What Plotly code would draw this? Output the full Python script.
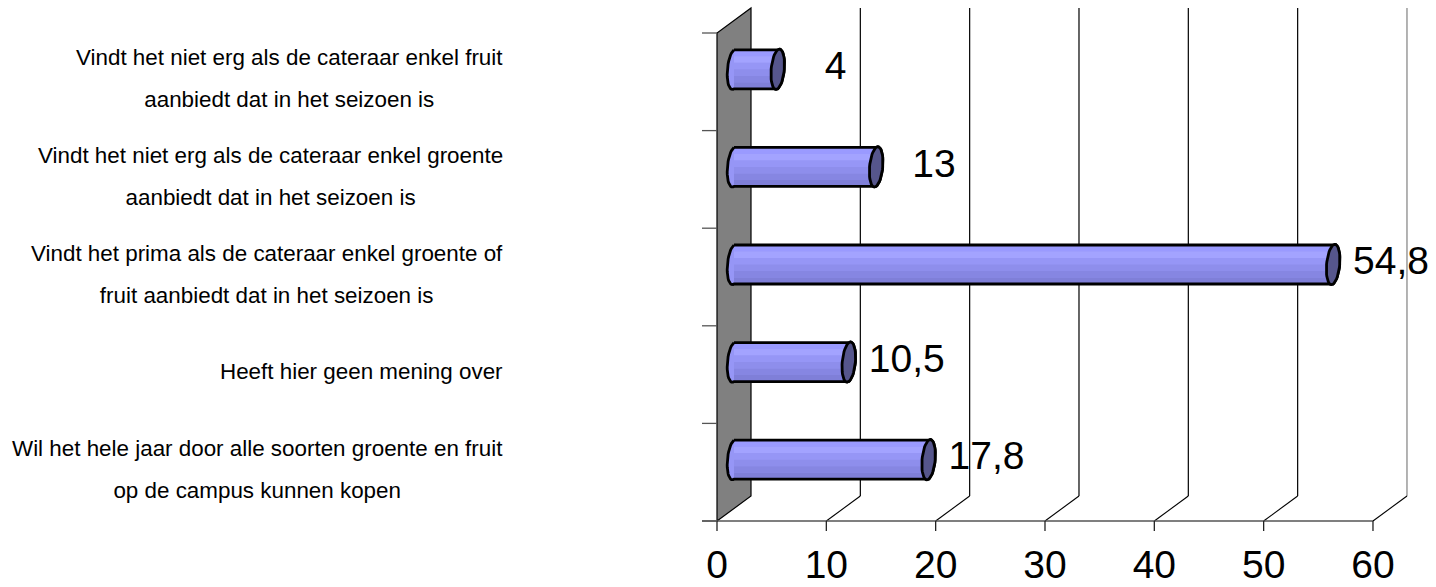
import numpy as np
import plotly.graph_objects as go

# ---------------- data (top to bottom as shown) ----------------
categories = [
    "Vindt het niet erg als de cateraar enkel fruit<br>aanbiedt dat in het seizoen is",
    "Vindt het niet erg als de cateraar enkel groente<br>aanbiedt dat in het seizoen is",
    "Vindt het prima als de cateraar enkel groente of<br>fruit aanbiedt dat in het seizoen is",
    "Heeft hier geen mening over",
    "Wil het hele jaar door alle soorten groente en fruit<br>op de campus kunnen kopen",
]
values = [4, 13, 54.8, 10.5, 17.8]
value_labels = ["4", "13", "54,8", "10,5", "17,8"]
x_ticks = [0, 10, 20, 30, 40, 50, 60]
x_tick_labels = ["0", "10", "20", "30", "40", "50", "60"]

# ---------------- geometry / style ----------------
W, H = 1436, 587
ML, MR, MT, MB = 690, 0, 0, 56
X0PX, KX = 717.0, 10.933      # pixel of x=0 (front), px per unit
Y0PX, KY = 521.0, 97.6        # pixel of y=0 (front floor), px per category
DX, DY = 34 / KX, 25 / KY     # depth offset of the back wall
n = len(categories)
XMAX = 60
PW = W - ML - MR

xr = [(ML - X0PX) / KX, (W - MR - X0PX) / KX]
yr = [(Y0PX - (H - MB)) / KY, (Y0PX - MT) / KY]

BAR_HALF = 19.5 / KY
CAP_X = 6.8 / KX
CAP_SKEW = 5 / KY
LABEL_OFFSET = 5.3

def line(x0, y0, x1, y1, color="black", width=1):
    return dict(type="line", x0=x0, y0=y0, x1=x1, y1=y1, xref="x", yref="y",
                line=dict(color=color, width=width), layer="below")

shapes = []
# side wall
shapes.append(dict(type="path", xref="x", yref="y", layer="below",
                   path=f"M 0,0 L {DX},{DY} L {DX},{n+DY} L 0,{n} Z",
                   fillcolor="#808080", line=dict(color="black", width=1.2)))
# back gridlines and floor diagonals
for t in x_ticks[1:]:
    col = "#808080" if t == XMAX else "#000000"
    shapes.append(line(t + DX, DY, t + DX, n + DY, col, 1.2))
    shapes.append(line(t, 0, t + DX, DY, "#000000", 1.1))
# front floor line
shapes.append(line(-15 / KX, 0, XMAX, 0, "#555555", 1.3))
# x ticks
for t in x_ticks:
    shapes.append(line(t, 0, t, -14 / KY, "#222222", 1.3))
# y ticks
for j in range(n + 1):
    shapes.append(line(-15 / KX, j, 0, j, "#555555", 1.3))

fig = go.Figure()

def ellipse(cx, cy, t):
    return cx + CAP_X * np.sin(t), cy + BAR_HALF * np.cos(t) + CAP_SKEW * np.sin(t)

band_colors = ["#9a9aff", "#a3a3ff", "#9696f6", "#8e8eec", "#8686e2", "#7f7fd8"]
band_edges = np.linspace(1, -1, len(band_colors) + 1)

for i, (cat, v) in enumerate(zip(categories, values)):
    j = n - 1 - i
    cy = j + 0.5 + DY / 2
    xl = DX / 2
    xe = v + DX / 2
    tl = np.linspace(0, -np.pi, 25)
    trr = np.linspace(np.pi, 0, 25)
    lx, ly = ellipse(xl, cy, tl)
    rx, ry = ellipse(xe, cy, trr)
    bx = np.concatenate([lx, rx, lx[:1]])
    by = np.concatenate([ly, ry, ly[:1]])
    fig.add_trace(go.Scatter(x=bx, y=by, mode="lines", fill="toself",
                             fillcolor=band_colors[2], line=dict(width=0),
                             hoverinfo="skip", showlegend=False))
    for k, col in enumerate(band_colors):
        y1 = cy + BAR_HALF * band_edges[k]
        y2 = cy + BAR_HALF * band_edges[k + 1]
        fig.add_trace(go.Scatter(x=[xl, xe, xe, xl, xl], y=[y1, y1, y2, y2, y1],
                                 mode="lines", fill="toself", fillcolor=col,
                                 line=dict(width=0), hoverinfo="skip",
                                 showlegend=False))
    fig.add_trace(go.Scatter(x=np.append(lx, lx[0]), y=np.append(ly, ly[0]),
                             mode="lines", fill="toself", fillcolor=band_colors[2],
                             line=dict(width=0), hoverinfo="skip", showlegend=False))
    fig.add_trace(go.Scatter(x=bx, y=by, mode="lines",
                             line=dict(color="black", width=2.8),
                             hoverinfo="skip", showlegend=False))
    tc = np.linspace(0, 2 * np.pi, 49)
    cxs, cys = ellipse(xe, cy, tc)
    fig.add_trace(go.Scatter(x=cxs, y=cys, mode="lines", fill="toself",
                             fillcolor="#56568c", line=dict(color="black", width=2.8),
                             hoverinfo="skip", showlegend=False))

# value labels
ys = [n - 1 - i + 0.5 + DY / 2 for i in range(n)]
fig.add_trace(go.Scatter(
    x=[v + DX / 2 + LABEL_OFFSET for v in values], y=ys,
    mode="text", text=value_labels, textposition="middle center",
    textfont=dict(family="Liberation Sans, Arial, sans-serif", size=39, color="black"),
    cliponaxis=False, hoverinfo="skip", showlegend=False))

# category labels (line spacing set by outer font size, glyph size by span)
annotations = []
for i, cat in enumerate(categories):
    j = n - 1 - i
    txt = "<br>".join(f'<span style="font-size:22.4px">{ln}</span>' for ln in cat.split("<br>"))
    annotations.append(dict(
        x=(505 - ML) / PW, y=j + 0.5, xref="paper", yref="y", yshift=3,
        text=txt, showarrow=False, xanchor="right", yanchor="middle", align="center",
        font=dict(family="Liberation Sans, Arial, sans-serif",
                  size=32.3, color="black")))

fig.update_layout(
    width=W, height=H, margin=dict(l=ML, r=MR, t=MT, b=MB, autoexpand=False),
    paper_bgcolor="white", plot_bgcolor="white",
    shapes=shapes, annotations=annotations, showlegend=False,
    xaxis=dict(range=xr, showgrid=False, zeroline=False, showline=False,
               automargin=False,
               tickmode="array", tickvals=x_ticks, ticktext=x_tick_labels, ticks="",
               ticklabelstandoff=7,
               tickfont=dict(family="Liberation Sans, Arial, sans-serif", size=39, color="black"),
               fixedrange=True),
    yaxis=dict(range=yr, showgrid=False, zeroline=False, showline=False, automargin=False,
               showticklabels=False, ticks="", fixedrange=True),
)

fig.write_html("out.html", config={"displayModeBar": False},
               post_script="document.body.style.margin='0';document.body.style.overflow='hidden';")
